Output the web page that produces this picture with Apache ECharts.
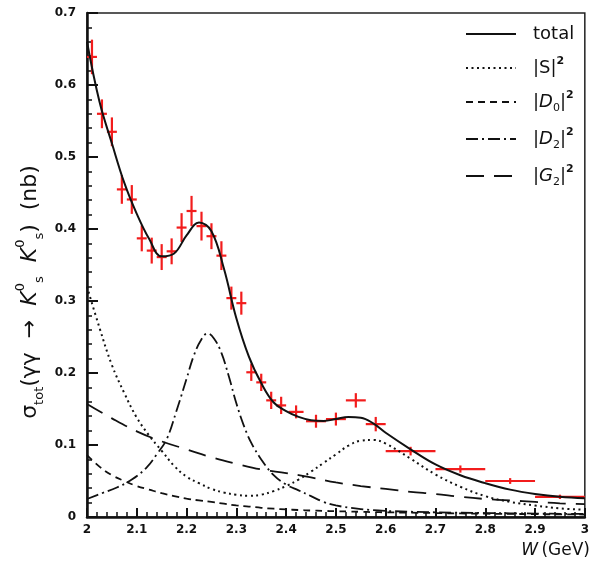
<!DOCTYPE html>
<html>
<head>
<meta charset="utf-8">
<script src="https://cdn.jsdelivr.net/npm/echarts@6/dist/echarts.min.js"></script>
<style>html,body{margin:0;padding:0;background:#fff;}#c{width:592px;height:565px;}</style>
</head>
<body>
<div id="c"></div>
<script>
// ---- data ----
const xTickLabels = ['2','2.1','2.2','2.3','2.4','2.5','2.6','2.7','2.8','2.9','3'];
const yTickLabels = ['0','0.1','0.2','0.3','0.4','0.5','0.6','0.7'];

// measured points
const ptW   = [2.01,2.03,2.05,2.07,2.09,2.11,2.13,2.15,2.17,2.19,2.21,2.23,2.25,2.27,2.29,2.31,2.33,2.35,2.37,2.39,2.42,2.46,2.50,2.54,2.58,2.65,2.75,2.85,2.95];
const ptVal = [0.639,0.560,0.535,0.455,0.441,0.387,0.370,0.361,0.369,0.402,0.425,0.404,0.390,0.363,0.304,0.297,0.201,0.187,0.162,0.155,0.146,0.133,0.136,0.162,0.129,0.0915,0.0666,0.050,0.028];
const ptErrY= [0.024,0.020,0.020,0.020,0.020,0.018,0.018,0.018,0.018,0.020,0.021,0.020,0.018,0.020,0.016,0.016,0.012,0.012,0.012,0.012,0.009,0.009,0.009,0.010,0.010,0.006,0.005,0.004,0.003];
const ptErrX= [0.01,0.01,0.01,0.01,0.01,0.01,0.01,0.01,0.01,0.01,0.01,0.01,0.01,0.01,0.01,0.01,0.01,0.01,0.01,0.01,0.015,0.02,0.02,0.02,0.02,0.05,0.05,0.05,0.05];

// fitted curves
const wFine = [2.00,2.025,2.05,2.075,2.10,2.125,2.15,2.175,2.20,2.225,2.25,2.275,2.30,2.325,2.35,2.375,2.40,2.425,2.45,2.475,2.50,2.525,2.55,2.575,2.60,2.65,2.70,2.75,2.80,2.85,2.90,2.95,3.00];
const totalVal = [0.660,0.577,0.519,0.464,0.421,0.386,0.362,0.366,0.391,0.409,0.397,0.345,0.276,0.223,0.186,0.159,0.147,0.139,0.1345,0.1335,0.136,0.139,0.138,0.130,0.117,0.094,0.073,0.058,0.047,0.038,0.032,0.028,0.026];
const sVal     = [0.320,0.263,0.211,0.172,0.138,0.113,0.092,0.071,0.056,0.047,0.039,0.034,0.031,0.0295,0.031,0.036,0.043,0.052,0.063,0.075,0.087,0.099,0.106,0.107,0.102,0.081,0.059,0.042,0.029,0.021,0.016,0.012,0.010];
const d0Val    = [0.086,0.070,0.058,0.050,0.043,0.038,0.033,0.029,0.0255,0.023,0.021,0.0185,0.016,0.0145,0.0128,0.0115,0.0105,0.0097,0.009,0.0085,0.008,0.0076,0.0072,0.0068,0.0065,0.006,0.0055,0.005,0.0046,0.0043,0.004,0.0037,0.0035];
const wD2  = [2.00,2.03,2.06,2.09,2.12,2.14,2.16,2.18,2.20,2.215,2.23,2.242,2.255,2.27,2.285,2.30,2.315,2.33,2.35,2.375,2.40,2.425,2.45,2.475,2.50,2.55,2.60,2.70,2.80,2.90,3.00];
const d2Val= [0.025,0.033,0.041,0.052,0.069,0.087,0.108,0.148,0.192,0.225,0.247,0.255,0.248,0.228,0.195,0.158,0.127,0.103,0.080,0.058,0.045,0.037,0.029,0.021,0.016,0.011,0.0085,0.0065,0.0055,0.0048,0.0042];
const wG2  = [2.00,2.05,2.10,2.15,2.20,2.25,2.30,2.35,2.40,2.45,2.50,2.55,2.60,2.65,2.70,2.75,2.80,2.85,2.90,2.95,3.00];
const g2Val= [0.157,0.137,0.119,0.105,0.094,0.083,0.074,0.066,0.061,0.055,0.048,0.043,0.039,0.035,0.032,0.028,0.025,0.023,0.021,0.019,0.018];

const seriesNames = ['total','S','D0','D2','G2'];
// ---- chart ----
const FONT = 'DejaVu Sans';
const zip = (a,b) => a.map((v,i)=>[v,b[i]]);
const chart = echarts.init(document.getElementById('c'), null, {renderer:'canvas'});

const legendText = {
  total: '{sp|}{n|total}',
  S:  '{sp|}{n||S|}{sup|2}',
  D0: '{sp|}{n||}{i|D}{sub|0}{n||}{sup|2}',
  D2: '{sp|}{n||}{i|D}{sub|2}{n||}{sup|2}',
  G2: '{sp|}{n||}{i|G}{sub|2}{n||}{sup|2}'
};

function lineSeries(name, xs, ys, type, width) {
  return {
    name, type:'line', data: zip(xs, ys), showSymbol:false, symbol:'none',
    smooth:0.4, z:3,
    lineStyle:{color:'#111', width: width, type: type},
    itemStyle:{color:'#111'},
    emphasis:{disabled:true}
  };
}

const option = {
  animation:false,
  backgroundColor:'#fff',
  grid:{left:87, right:2, top:13, bottom:48, show:true, borderColor:'#222', borderWidth:1.5, backgroundColor:'transparent'},
  xAxis:{
    type:'value', min:2, max:3, interval:0.1,
    axisLine:{onZero:false, lineStyle:{color:'#111', width:2.5}},
    axisTick:{inside:true, length:9, lineStyle:{color:'#111', width:2}},
    minorTick:{show:true, splitNumber:5, length:5, lineStyle:{color:'#111', width:1.5}},
    splitLine:{show:false},
    axisLabel:{margin:7, color:'#111', fontFamily:FONT, fontWeight:'bold', fontSize:12,
      formatter:(v)=> xTickLabels[Math.round((v-2)*10)]}
  },
  yAxis:{
    type:'value', min:0, max:0.7, interval:0.1,
    axisLine:{lineStyle:{color:'#111', width:2.5}},
    axisTick:{inside:true, length:11, lineStyle:{color:'#111', width:2}},
    minorTick:{show:true, splitNumber:5, length:5, lineStyle:{color:'#111', width:1.5}},
    splitLine:{show:false},
    axisLabel:{margin:11, color:'#111', fontFamily:FONT, fontWeight:'bold', fontSize:12,
      formatter:(v)=> yTickLabels[Math.round(v*10)]}
  },
  legend:{
    orient:'vertical', left:460, top:20, itemWidth:50, itemHeight:12, itemGap:13,
    data: seriesNames, selectedMode:false,
    itemStyle:{color:'rgba(0,0,0,0)', borderColor:'rgba(0,0,0,0)', borderWidth:0, opacity:0},
    formatter:(n)=>legendText[n],
    textStyle:{
      color:'#111', fontFamily:FONT, fontSize:18,
      rich:{
        sp:{width:12},
        n:{fontSize:18, fontFamily:FONT, color:'#111', lineHeight:24, verticalAlign:'middle'},
        i:{fontSize:18, fontFamily:FONT, fontStyle:'italic', color:'#111', lineHeight:24, verticalAlign:'middle'},
        sub:{fontSize:11, fontFamily:FONT, color:'#111', lineHeight:24, verticalAlign:'bottom'},
        sup:{fontSize:11, fontFamily:FONT, fontWeight:'bold', color:'#111', lineHeight:24, verticalAlign:'top'}
      }
    }
  },
  graphic:[
    {type:'text', x:30, y:292, rotation:Math.PI/2, z:10,
      style:{
        text:'{n|σ}{sub|tot}{n|(γγ  →  }{i|K}{sup|0}{sub|s}{i|  K}{sup|0}{sub|s}{n|)  (nb)}',
        align:'center', verticalAlign:'middle',
        rich:{
          n:{fontSize:22, fontFamily:FONT, fill:'#111', lineHeight:32, verticalAlign:'middle'},
          i:{fontSize:22, fontFamily:FONT, fontStyle:'italic', fill:'#111', lineHeight:32, verticalAlign:'middle'},
          sub:{fontSize:13, fontFamily:FONT, fill:'#111', lineHeight:32, verticalAlign:'bottom'},
          sup:{fontSize:13, fontFamily:FONT, fill:'#111', lineHeight:32, verticalAlign:'top'}
        }
      }
    },
    {type:'text', x:590, y:551, z:10,
      style:{
        text:'{i|W} {n|(GeV)}', align:'right', verticalAlign:'middle',
        rich:{
          n:{fontSize:17, fontFamily:FONT, fill:'#111'},
          i:{fontSize:17, fontFamily:FONT, fontStyle:'italic', fill:'#111'}
        }
      }
    }
  ],
  series:[
    {
      name:'data', type:'custom', z:2,
      data: ptW.map((w,i)=>[w, ptVal[i], ptErrX[i], ptErrY[i]]),
      renderItem:(params, api)=>{
        const x=api.value(0), y=api.value(1), ex=api.value(2), ey=api.value(3);
        const l=api.coord([x-ex,y]), r=api.coord([x+ex,y]);
        const t=api.coord([x,y+ey]), b=api.coord([x,y-ey]);
        const st={stroke:'#f21c1c', lineWidth:2.2};
        return {type:'group', children:[
          {type:'line', shape:{x1:l[0],y1:l[1],x2:r[0],y2:r[1]}, style:st},
          {type:'line', shape:{x1:t[0],y1:t[1],x2:b[0],y2:b[1]}, style:st}
        ]};
      }
    },
    lineSeries('total', wFine, totalVal, 'solid', 2),
    lineSeries('S', wFine, sVal, [2,3.5], 2),
    lineSeries('D0', wFine, d0Val, [7,5], 1.8),
    lineSeries('D2', wD2, d2Val, [12,4,2,4], 1.8),
    lineSeries('G2', wG2, g2Val, [18,10], 1.8)
  ]
};
chart.setOption(option);
</script>
</body>
</html>
